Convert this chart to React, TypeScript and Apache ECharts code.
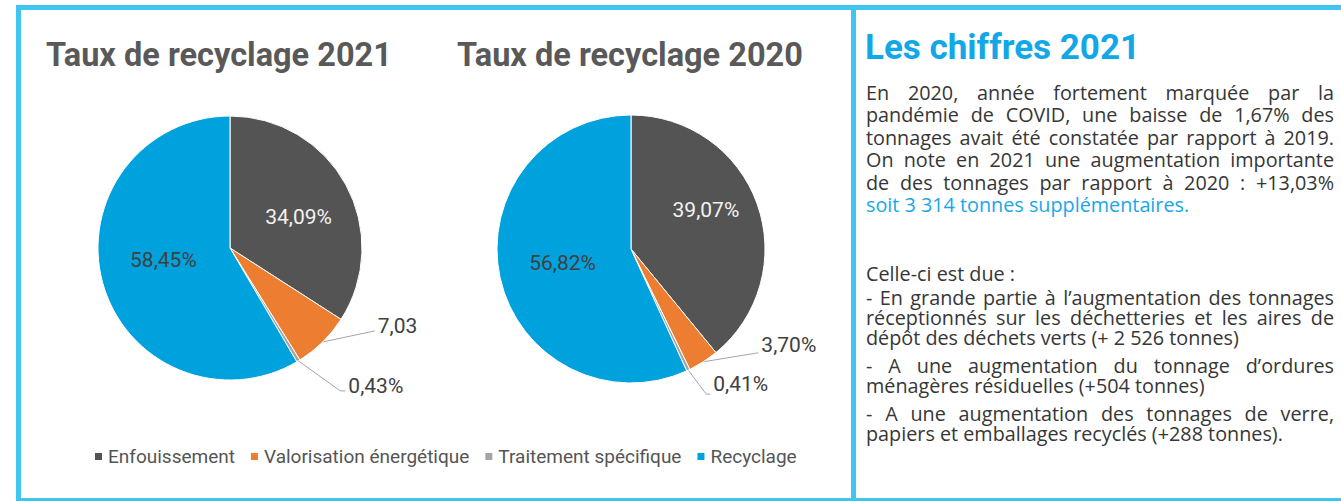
import React, { useEffect, useRef } from 'react';
import * as echarts from 'echarts';

const categories = ['Enfouissement', 'Valorisation énergétique', 'Traitement spécifique', 'Recyclage'];
const values2021 = [34.09, 7.03, 0.43, 58.45];
const values2020 = [39.07, 3.7, 0.41, 56.82];
const labels2021 = ['34,09%', '7,03', '0,43%', '58,45%'];
const labels2020 = ['39,07%', '3,70%', '0,41%', '56,82%'];
const pieTitles = ['Taux de recyclage 2021', 'Taux de recyclage 2020'];
const panelTitle = 'Les chiffres 2021';
const para1 = [
  'En 2020, année fortement marquée par la',
  'pandémie de COVID, une baisse de 1,67% des',
  'tonnages avait été constatée par rapport à 2019.',
  'On note en 2021 une augmentation importante',
  'de des tonnages par rapport à 2020 : +13,03%',
];
const para1Justified = [true, true, true, true, true];
const para1Highlight = 'soit 3 314 tonnes supplémentaires.';
const para2 = [
  'Celle-ci est due :',
  '- En grande partie à l’augmentation des tonnages',
  'réceptionnés sur les déchetteries et les aires de',
  'dépôt des déchets verts (+ 2 526 tonnes)',
  '- A une augmentation du tonnage d’ordures',
  'ménagères résiduelles (+504 tonnes)',
  '- A une augmentation des tonnages de verre,',
  'papiers et emballages recyclés (+288 tonnes).',
];
const para2Justified = [false, true, true, false, true, false, true, false];

const colors = ['#545454', '#ED7D31', '#A5A5A5', '#00A2DE'];
const BORDER = '#40C4F0';
const HEAD_FONT = 'Roboto';
const BODY_FONT = 'Open Sans';
const BODY_SIZE = 19.8;
const TEXT_LEFT = 866;
const TEXT_RIGHT = 1334;

const para1Y = [92, 114.5, 137, 159.5, 182, 204];
const para2Y = [273, 297, 317, 337, 365, 385, 413, 433];

let measureCtx: CanvasRenderingContext2D | null = null;
function measure(text: string) {
  if (!measureCtx) measureCtx = document.createElement('canvas').getContext('2d');
  measureCtx!.font = `${BODY_SIZE}px "${BODY_FONT}"`;
  return measureCtx!.measureText(text).width;
}

function lineElements(text: string, y: number, justify: boolean, fill: string) {
  const base = { fontFamily: BODY_FONT, fontSize: BODY_SIZE, fill, verticalAlign: 'middle', lineHeight: 18 };
  if (!justify) {
    return [{ type: 'text', x: TEXT_LEFT, y, style: { ...base, text } }];
  }
  const words = text.split(' ');
  const widths = words.map(measure);
  const total = widths.reduce((a, b) => a + b, 0);
  const gap = (TEXT_RIGHT - TEXT_LEFT - total) / (words.length - 1);
  let x = TEXT_LEFT;
  return words.map((w, i) => {
    const el = { type: 'text', x, y, style: { ...base, text: w } };
    x += widths[i] + gap;
    return el;
  });
}

function makeSeries(values: number[], labels: string[], center: [number, number], radius: number,
  insideOffsets: Record<number, [number, number]>, outsideOffsets: Record<number, [number, number, number, number]>) {
  return {
    type: 'pie',
    center,
    radius,
    startAngle: 90,
    clockwise: true,
    avoidLabelOverlap: false,
    itemStyle: { borderColor: '#ffffff', borderWidth: 1 },
    label: {
      show: true,
      position: 'inside',
      formatter: (p: any) => labels[p.dataIndex],
      fontFamily: 'Roboto',
      fontSize: 21,
      color: '#404040',
    },
    labelLine: { show: false },
    labelLayout: (params: any) => {
      const i = params.dataIndex;
      if (outsideOffsets[i] && params.labelLinePoints) {
        const p0 = params.labelLinePoints[0];
        const o = outsideOffsets[i];
        const p1 = [p0[0] + o[0], p0[1] + o[1]];
        const p2 = [p1[0] + o[2], p1[1]];
        return { x: p2[0] + 3, y: p2[1] + o[3], align: 'left', verticalAlign: 'middle', labelLinePoints: [p0, p1, p2] };
      }
      if (insideOffsets[i]) {
        return { dx: insideOffsets[i][0], dy: insideOffsets[i][1] };
      }
      return {};
    },
    emphasis: { disabled: true },
    data: categories.map((name, i) => {
      const isOut = !!outsideOffsets[i];
      return {
        name,
        value: values[i],
        label: isOut ? { position: 'outside' } : i === 0 ? { color: '#F2F2F2' } : undefined,
        labelLine: isOut ? { show: true, length: 20, length2: 10, lineStyle: { color: '#A6A6A6', width: 1 } } : undefined,
      };
    }),
  };
}

export default function App() {
  const ref = useRef<HTMLDivElement>(null);
  useEffect(() => {
    if (!ref.current) return;
    const chart = echarts.init(ref.current, undefined, { renderer: 'svg' });
    const textColor = '#363636';
    const graphics: any[] = [
      { type: 'rect', shape: { x: 16, y: 5, width: 1325, height: 5 }, style: { fill: BORDER }, silent: true },
      { type: 'rect', shape: { x: 16, y: 5, width: 5, height: 496 }, style: { fill: BORDER }, silent: true },
      { type: 'rect', shape: { x: 851, y: 5, width: 5, height: 496 }, style: { fill: BORDER }, silent: true },
      { type: 'rect', shape: { x: 16, y: 498, width: 1325, height: 3 }, style: { fill: BORDER }, silent: true },
      {
        type: 'text', x: 865, y: 47,
        style: { text: panelTitle, fontFamily: HEAD_FONT, fontWeight: 'bold', fontSize: 35, fill: '#12A7E6', verticalAlign: 'middle' },
      },
    ];
    para1.forEach((t, i) => {
      graphics.push(...lineElements(t, para1Y[i], para1Justified[i], textColor));
    });
    graphics.push(...lineElements(para1Highlight, para1Y[5], false, '#1AA7E8'));
    para2.forEach((t, i) => {
      graphics.push(...lineElements(t, para2Y[i], para2Justified[i], textColor));
    });

    chart.setOption({
      animation: false,
      color: colors,
      title: [
        { text: pieTitles[0], left: 41, top: 33, textStyle: { fontFamily: HEAD_FONT, fontWeight: 'bold', fontSize: 32.5, color: '#595959' } },
        { text: pieTitles[1], left: 452, top: 33, textStyle: { fontFamily: HEAD_FONT, fontWeight: 'bold', fontSize: 32.5, color: '#595959' } },
      ],
      legend: {
        data: categories,
        left: 88,
        top: 442,
        icon: 'rect',
        itemWidth: 9,
        itemHeight: 9,
        itemGap: 14,
        textStyle: { fontFamily: HEAD_FONT, fontSize: 19, color: '#555555' },
      },
      graphic: graphics,
      series: [
        makeSeries(values2021, labels2021, [230, 248], 132, { 0: [8, 2], 3: [0, -6] }, { 1: [52, -11, 0, -5], 2: [42, 30, 5, -5] }),
        makeSeries(values2020, labels2020, [631, 249], 134, { 0: [9, -15], 3: [0, -1] }, { 1: [55, -9, 0, -8], 2: [18, 24, 4, -10] }),
      ],
    });
    return () => chart.dispose();
  }, []);
  return <div ref={ref} style={{ position: 'absolute', left: 0, top: 0, width: 1341, height: 501 }} />;
}
